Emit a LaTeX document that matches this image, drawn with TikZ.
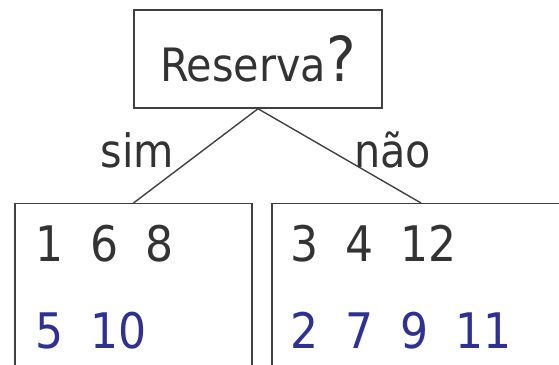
\documentclass[tikz,border=0pt]{standalone}
\usepackage{fontspec}
\setmainfont{DejaVu Sans Condensed}
\usetikzlibrary{positioning}

\definecolor{txtgray}{HTML}{333333}
\definecolor{numblue}{HTML}{2E3192}
\definecolor{linegray}{HTML}{404040}
\newcommand{\numgap}{\hspace{27pt}}

\begin{document}
\begin{tikzpicture}[x=1pt, y=1pt,
  test/.style={rectangle, draw=linegray, line width=1.5pt, minimum width=248pt,
               minimum height=98pt, text=txtgray, inner sep=0pt,
               font=\fontsize{46}{55}\selectfont},
  leaf/.style={rectangle, draw=linegray, line width=1.5pt, minimum height=220pt,
               anchor=north},
  edge/.style={draw=linegray, line width=1.4pt},
  lbl/.style={text=txtgray, anchor=base, inner sep=0pt,
              font=\fontsize{46}{55}\selectfont},
  row/.style={anchor=base west, inner sep=0pt, font=\fontsize{49}{59}\selectfont},
]
  \useasboundingbox (0,0) rectangle (559,364);
  \clip (0,0) rectangle (559,364);

  % question node
  \node[test] (q) at (258,305) {Reserva{\fontsize{62}{70}\selectfont ?}\hspace{6pt}};

  % the two branches
  \node[leaf, minimum width=237pt] (yes) at (133.5,161) {};
  \node[leaf, minimum width=298pt] (no) at (421,161) {};

  \draw[edge] (q.south) -- (yes.north);
  \draw[edge] (q.south) -- (no.north);
  \node[lbl] (lsim) at (137.5,196) {sim};
  \node[lbl] (lnao) at (392.5,196) {não};

  % examples in each branch
  \node[row, text=txtgray] (yestop) at (35,102) {1\numgap 6\numgap 8};
  \node[row, text=numblue] (yesbot) at (35,16) {5\numgap 10};
  \node[row, text=txtgray] (notop) at (290,102) {3\numgap 4\numgap 12};
  \node[row, text=numblue] (nobot) at (290,16) {2\numgap 7\numgap 9\numgap 11};
\end{tikzpicture}
\end{document}
